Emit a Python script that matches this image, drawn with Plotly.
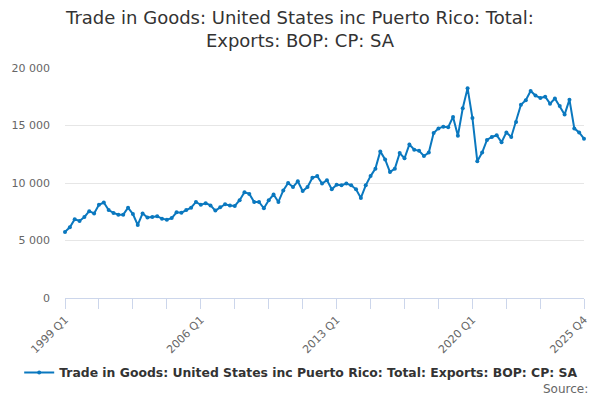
import plotly.graph_objects as go

# quarterly values, 1999 Q1 .. 2025 Q4
years = list(range(1999, 2026))
quarters = [f"{y} Q{q}" for y in years for q in range(1, 5)]

exports = [
    5750, 6150, 6850, 6700, 7050, 7550, 7350, 8100, 8300, 7650,
    7400, 7250, 7250, 7850, 7300, 6350, 7350, 7000, 7050, 7100,
    6900, 6800, 6950, 7450, 7420, 7650, 7850, 8350, 8100, 8250,
    8050, 7600, 7900, 8150, 8050, 8000, 8500, 9200, 9050, 8350,
    8350, 7800, 8500, 9000, 8350, 9350, 10000, 9650, 10150, 9300,
    9650, 10450, 10600, 9950, 10250, 9450, 9850, 9800, 9950, 9800,
    9450, 8700, 9800, 10600, 11250, 12750, 12050, 10950, 11250, 12600,
    12150, 13350, 12900, 12800, 12350, 12650, 14350, 14750, 14900, 14850,
    15750, 14100, 16500, 18250, 15650, 11900, 12650, 13750, 14000, 14150,
    13550, 14400, 14000, 15300, 16800, 17200, 18000, 17600, 17400, 17500,
    16900, 17350, 16700, 15950, 17250, 14750, 14400, 13850,
]

series_name = "Trade in Goods: United States inc Puerto Rico: Total: Exports: BOP: CP: SA"
title_text = "Trade in Goods: United States inc Puerto Rico: Total:<br>Exports: BOP: CP: SA"

y_ticks = [0, 5000, 10000, 15000, 20000]
y_labels = ["0", "5 000", "10 000", "15 000", "20 000"]

# minor ticks every 7 quarters, labels every 28 plus the last quarter
tick_idx = list(range(0, 99, 7)) + [len(quarters) - 1]
label_idx = [0, 28, 56, 84, len(quarters) - 1]
x_tickvals = [quarters[i] for i in tick_idx]
x_ticktext = [quarters[i] if i in label_idx else "" for i in tick_idx]

font = "DejaVu Sans"
blue = "#0a78bf"

# the page body adds an 8px offset, so everything is laid out 8px up/left
fig = go.Figure()
fig.add_trace(
    go.Scatter(
        x=quarters,
        y=exports,
        mode="lines+markers",
        name="<b>" + series_name + "</b>",
        line=dict(color=blue, width=2),
        marker=dict(color=blue, size=4),
        cliponaxis=False,
    )
)

fig.update_layout(
    width=600,
    height=400,
    paper_bgcolor="white",
    plot_bgcolor="white",
    margin=dict(l=57, r=24, t=60, b=110),
    font=dict(family=font, color="#666666", size=11),
    title=dict(
        text=title_text,
        x=0.5 - 8 / 600,
        xanchor="center",
        xref="container",
        y=1 - 16 / 400,
        yref="container",
        yanchor="middle",
        font=dict(family=font, size=18, color="#333333"),
    ),
    showlegend=True,
    legend=dict(
        orientation="h",
        x=0.502 - 8 / 600,
        xanchor="center",
        xref="container",
        y=1 - 365 / 400,
        yref="container",
        yanchor="middle",
        font=dict(family=font, size=12.4, color="#333333"),
    ),
)

# "Source:" sits bottom right, below the legend
fig.add_annotation(
    text="Source:",
    x=1.0116,
    xref="paper",
    xanchor="right",
    y=(290 - 381) / 230,
    yref="paper",
    yanchor="middle",
    showarrow=False,
    font=dict(family=font, size=12, color="#666666"),
)

fig.update_xaxes(
    type="category",
    range=[0, len(quarters) - 1],
    automargin=False,
    tickmode="array",
    tickvals=x_tickvals,
    ticktext=x_ticktext,
    tickangle=-45,
    ticks="outside",
    ticklen=10,
    tickcolor="#ccd6eb",
    showline=True,
    linecolor="#ccd6eb",
    linewidth=1,
    showgrid=False,
    tickfont=dict(family=font, size=11, color="#666666"),
)

fig.update_yaxes(
    range=[0, 20000],
    automargin=False,
    tickmode="array",
    tickvals=y_ticks,
    ticktext=y_labels,
    showgrid=True,
    gridcolor="#e6e6e6",
    zeroline=False,
    showline=False,
    ticklabelstandoff=14,
    tickfont=dict(family=font, size=11, color="#666666"),
)

fig.write_html("out.html")
